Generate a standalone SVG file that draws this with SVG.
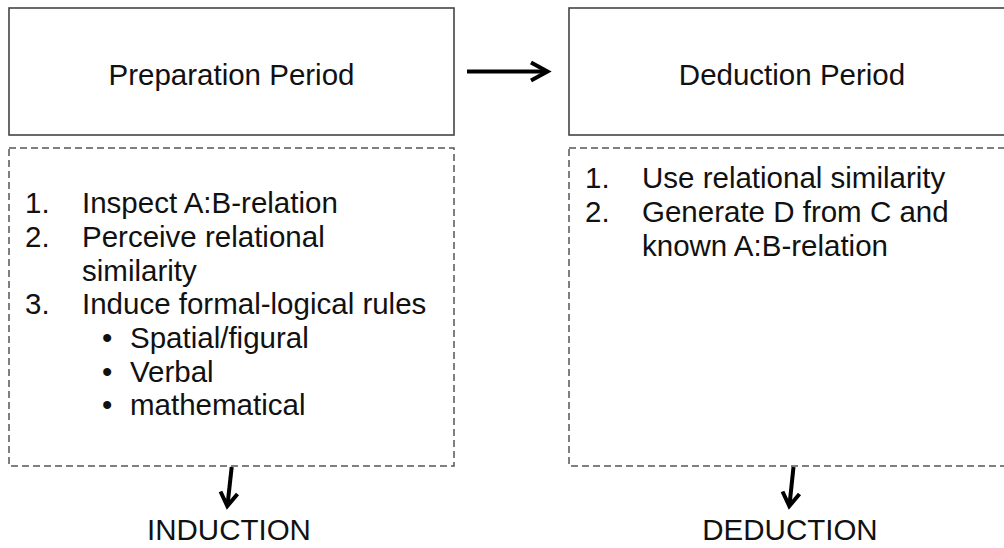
<svg xmlns="http://www.w3.org/2000/svg" width="1004" height="548" viewBox="0 0 1004 548">
<style>
.box{fill:#fff;stroke:#444;stroke-width:1.6}
.dash{fill:none;stroke:#555;stroke-width:1.5;stroke-dasharray:7 4}
.t{font-family:"Liberation Sans",Arial,sans-serif;font-size:29.5px;fill:#111}
.c{text-anchor:middle}
.arr{fill:none;stroke:#000;stroke-width:4;stroke-linecap:butt;stroke-linejoin:miter}
</style>
<rect width="1004" height="548" fill="#fff"/>
<g id="prep">
<rect class="box" x="9" y="8" width="445" height="127"/>
<text class="t c" x="231.5" y="85">Preparation Period</text>
</g>
<g id="deduct">
<rect class="box" x="569" y="8" width="445" height="127"/>
<text class="t c" x="792" y="85">Deduction Period</text>
</g>
<g id="prep-steps">
<rect class="dash" x="9" y="148" width="445" height="318"/>
<text class="t" x="25" y="213">1.</text><text class="t" x="82" y="213">Inspect A:B-relation</text>
<text class="t" x="25" y="247">2.</text><text class="t" x="82" y="247">Perceive relational</text>
<text class="t" x="82" y="280.5">similarity</text>
<text class="t" x="25" y="314">3.</text><text class="t" x="82" y="314">Induce formal-logical rules</text>
<text class="t" x="102" y="348">•</text><text class="t" x="130" y="348">Spatial/figural</text>
<text class="t" x="102" y="381.5">•</text><text class="t" x="130" y="381.5">Verbal</text>
<text class="t" x="102" y="415">•</text><text class="t" x="130" y="415">mathematical</text>
</g>
<g id="deduct-steps">
<rect class="dash" x="569" y="148" width="445" height="318"/>
<text class="t" x="585" y="188">1.</text><text class="t" x="642" y="188">Use relational similarity</text>
<text class="t" x="585" y="222">2.</text><text class="t" x="642" y="222">Generate D from C and</text>
<text class="t" x="642" y="256">known A:B-relation</text>
</g>
<g id="induction">
<text class="t c" x="229" y="540">INDUCTION</text>
</g>
<g id="deduction">
<text class="t c" x="790" y="540">DEDUCTION</text>
</g>
<g id="connectors">
<path class="arr" d="M467 71.5H547"/>
<path class="arr" d="M531 62.5L547.5 71.5L531 80.5"/>
<path class="arr" d="M231.7 467L227.5 505"/>
<path class="arr" d="M220.5 491.5L227.3 506L237.5 494"/>
<path class="arr" d="M793.5 467L789.5 505"/>
<path class="arr" d="M782.5 491.5L789.3 506L799.5 494"/>
</g>
</svg>
